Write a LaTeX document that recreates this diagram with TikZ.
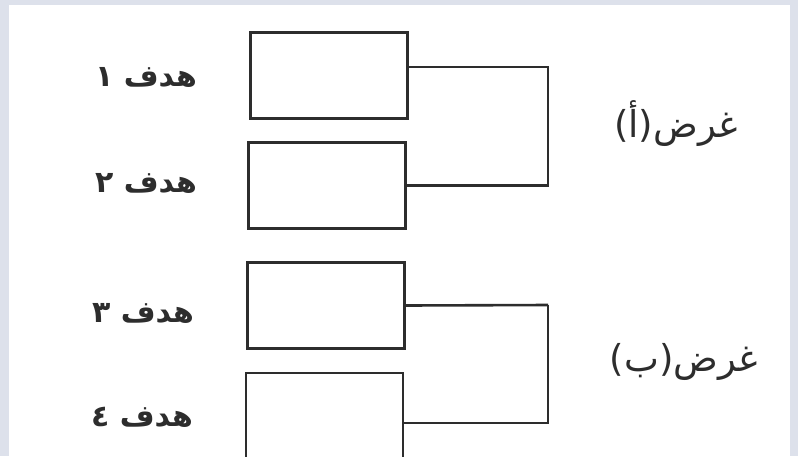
\documentclass[tikz,border=0pt]{standalone}
\usepackage{fontspec}
\TeXXeTstate=1
\newfontfamily\arabicfont[Script=Arabic]{DejaVu Sans}
\definecolor{frame}{RGB}{221,225,235}
\definecolor{ink}{RGB}{45,45,45}
\tikzset{
  box/.style={draw=ink, line width=2.6pt, fill=white, minimum width=157pt, minimum height=86pt, inner sep=0pt},
  link/.style={draw=ink, line width=2.6pt},
  goal/.style={font=\arabicfont\bfseries\fontsize{30}{34}\selectfont, text=ink, inner sep=0pt},
  aim/.style={font=\arabicfont\fontsize{37}{42}\selectfont, text=ink, inner sep=0pt}
}
\begin{document}
\begin{tikzpicture}[x=1pt,y=-1pt]
\useasboundingbox (0,0) rectangle (798,456);
\fill[frame] (0,0) rectangle (798,456);
\fill[white] (9,5) rectangle (790,456);
\begin{scope}
\clip (0,0) rectangle (798,456);
\node[box] (b1) at (329,75.5) {};
\node[box] (b2) at (327,185.5) {};
\node[box] (b3) at (326,305.5) {};
\node[box] (b4) at (324.5,416) {};
\coordinate (ca) at (548,67);
\coordinate (cb) at (548,305);
\draw[link] (b1.east |- ca) -- (ca) |- (b2.east);
\draw[link] (cb) |- ([yshift=-7pt]b4.east);
\draw[link] (b3.east) -- (cb);
\end{scope}
\node[goal] (g1) at (146,77) {\beginR هدف ١\endR};
\node[goal] (g2) at (146,183) {\beginR هدف ٢\endR};
\node[goal] (g3) at (143,313) {\beginR هدف ٣\endR};
\node[goal] (g4) at (142,417) {\beginR هدف ٤\endR};
\node[aim] (a1) at (676,124) {\beginR غرض(أ)\endR};
\node[aim] (a2) at (684,362) {\beginR غرض(ب)\endR};
\end{tikzpicture}
\end{document}
